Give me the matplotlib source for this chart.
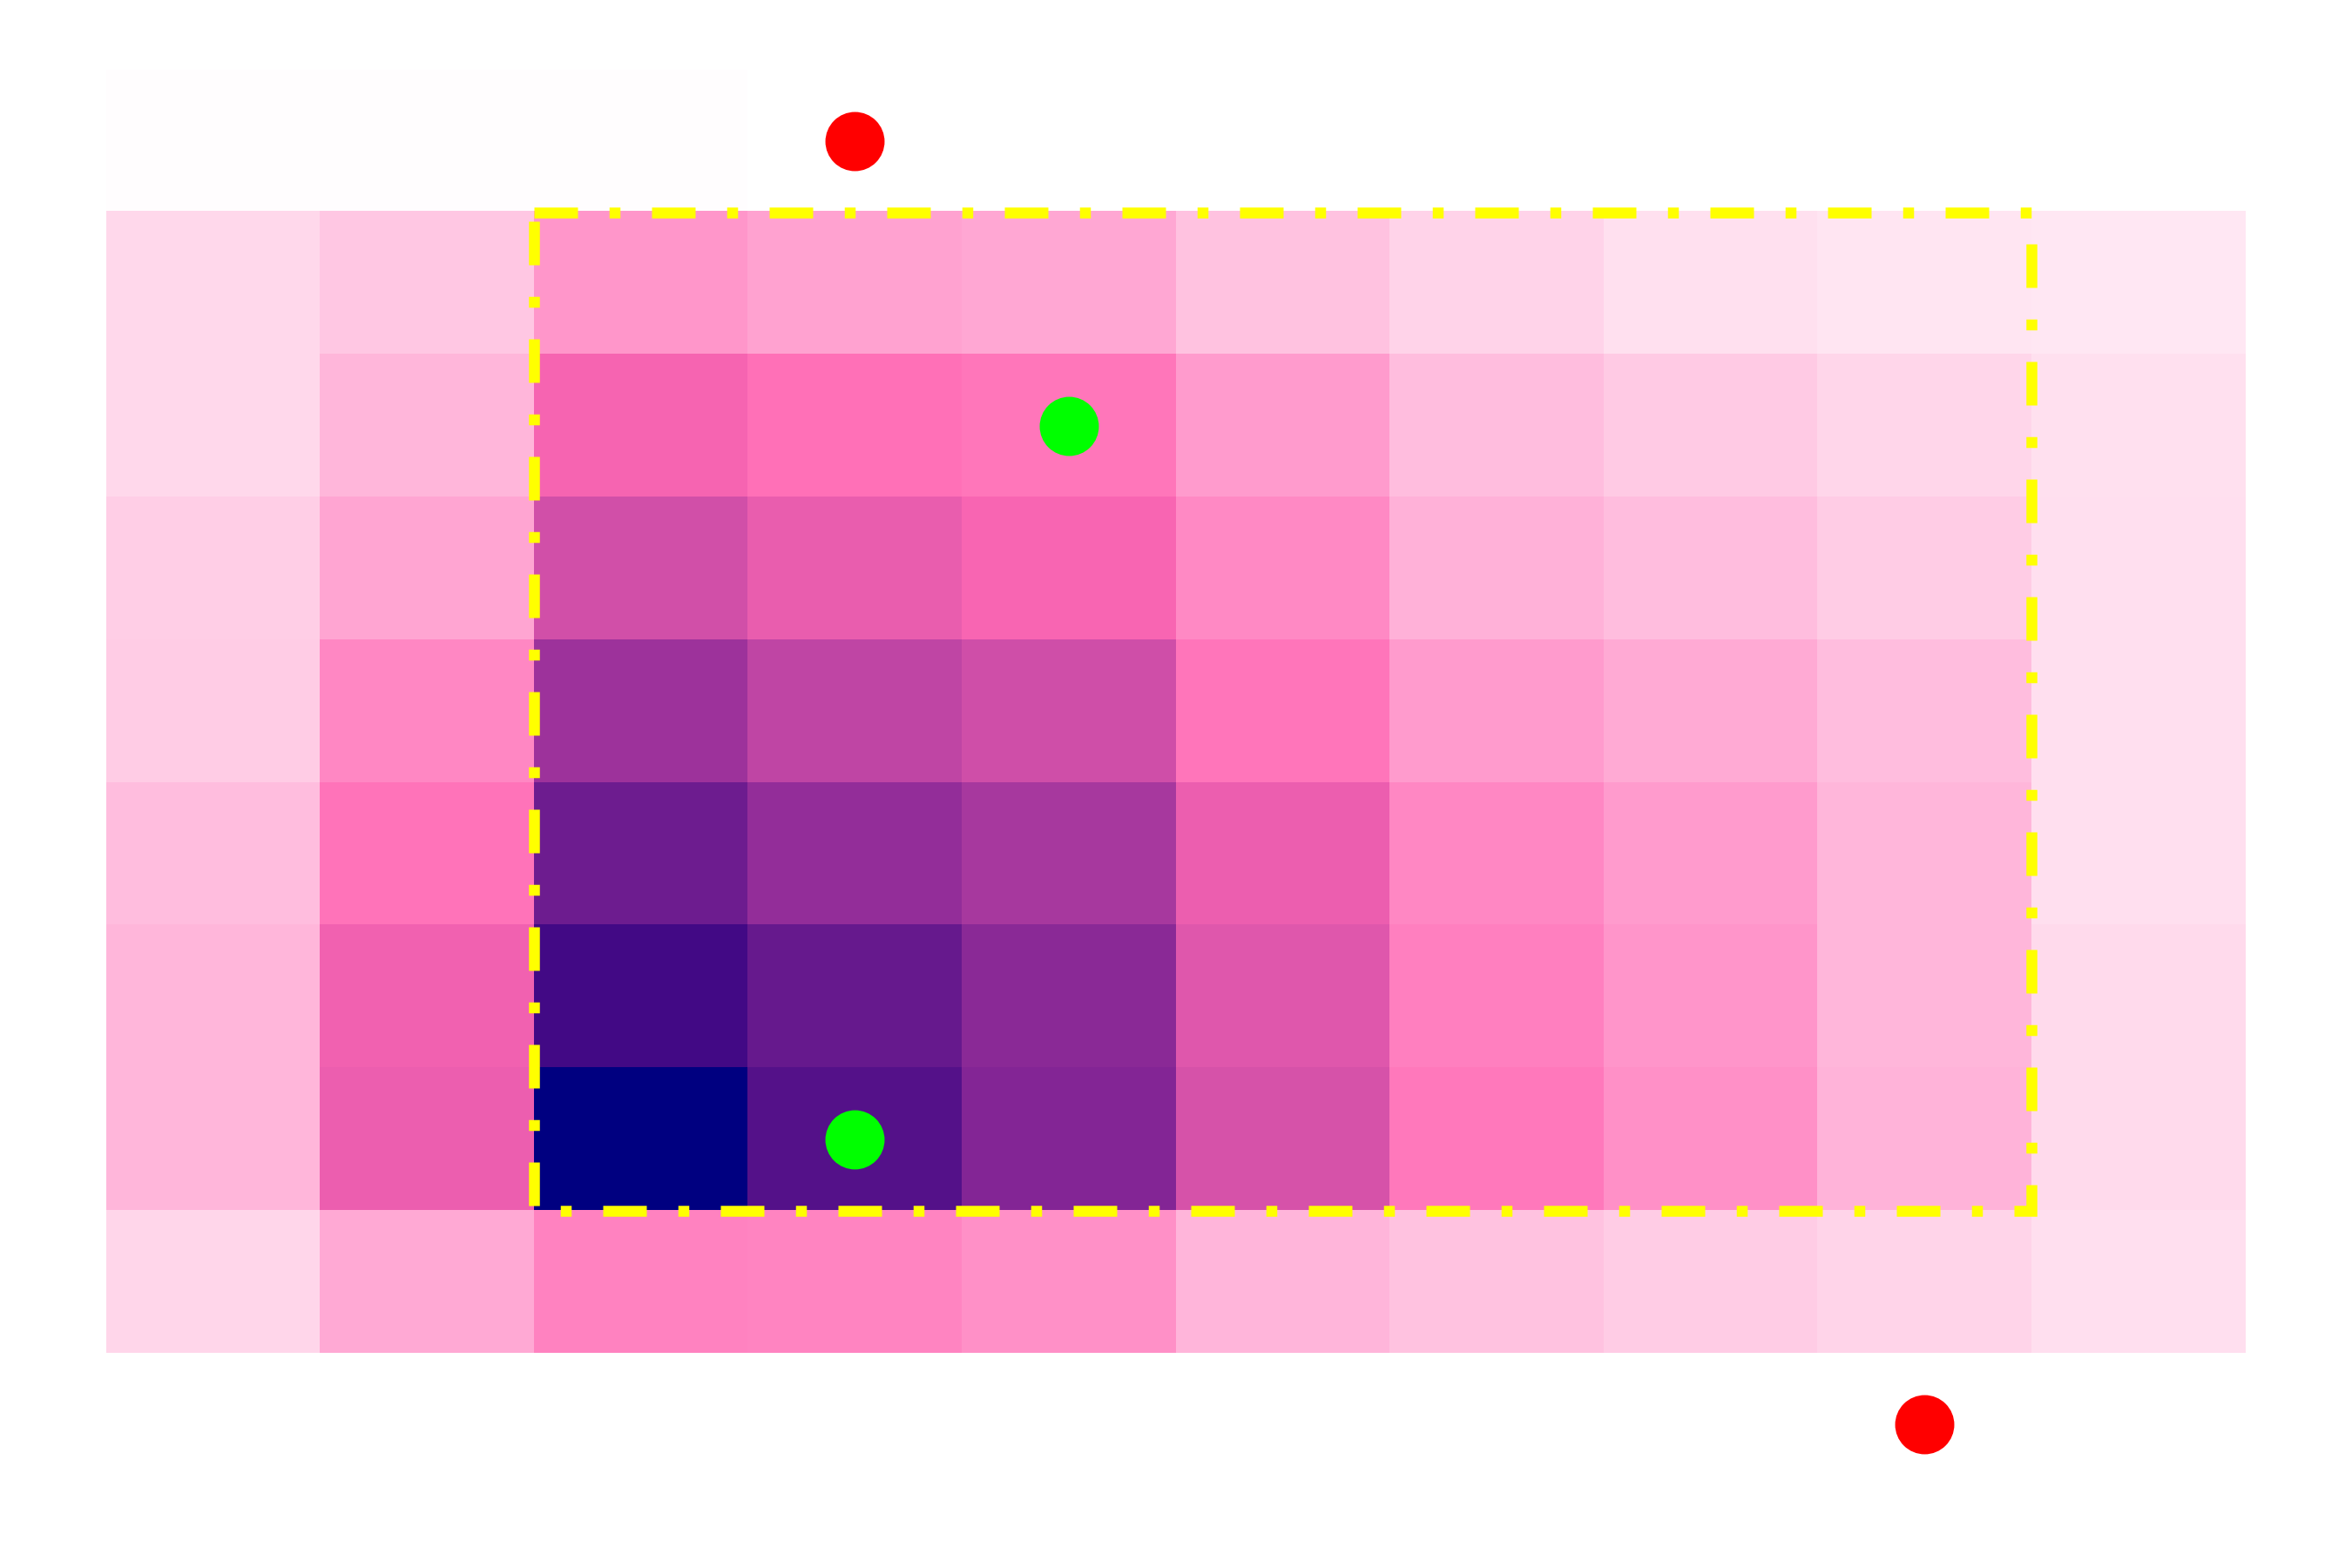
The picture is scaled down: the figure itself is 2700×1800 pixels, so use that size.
import numpy as np
import matplotlib
matplotlib.use("Agg")
import matplotlib.pyplot as plt
from matplotlib.colors import LinearSegmentedColormap
from matplotlib.patches import Rectangle

# Grid values (rows top -> bottom, columns left -> right)
row0 = [0.006, 0.006, 0.006, 0.0, 0.0, 0.0, 0.0, 0.0, 0.0, 0.0]
row1 = [0.092, 0.131, 0.243, 0.216, 0.207, 0.141, 0.103, 0.071, 0.060, 0.055]
row2 = [0.092, 0.170, 0.368, 0.335, 0.318, 0.231, 0.155, 0.124, 0.094, 0.071]
row3 = [0.114, 0.210, 0.455, 0.400, 0.367, 0.275, 0.182, 0.155, 0.120, 0.075]
row4 = [0.120, 0.278, 0.575, 0.497, 0.460, 0.321, 0.231, 0.196, 0.156, 0.075]
row5 = [0.154, 0.325, 0.701, 0.600, 0.553, 0.392, 0.278, 0.231, 0.168, 0.077]
row6 = [0.170, 0.379, 0.820, 0.721, 0.622, 0.423, 0.300, 0.249, 0.170, 0.087]
row7 = [0.170, 0.392, 1.000, 0.769, 0.642, 0.443, 0.314, 0.261, 0.178, 0.089]
row8 = [0.095, 0.200, 0.292, 0.287, 0.259, 0.175, 0.144, 0.119, 0.099, 0.075]

# Highlight region (column/row index ranges, inclusive)
box_cols = [2, 8]
box_rows = [1, 7]

# Marker points (column, row)
red_cols = [3, 8]
red_rows = [0, 9]
green_cols = [4, 3]
green_rows = [2, 7]

grid = np.array([row0, row1, row2, row3, row4, row5, row6, row7, row8])
n_rows_total = 10  # the axes leaves room for one empty row below the grid

cmap = LinearSegmentedColormap.from_list(
    "pinkpurple",
    [(0.0, "#ffffff"), (0.35, "#ff69b4"), (0.60, "#932d99"),
     (0.82, "#420985"), (1.0, "#000080")],
)

fig = plt.figure(figsize=(9, 6), dpi=300)
ax = fig.add_axes([0.0452, 0.0461, 0.9093, 0.9094])
ax.imshow(grid, cmap=cmap, vmin=0, vmax=1, aspect="auto",
          interpolation="nearest")
ax.set_xlim(-0.5, grid.shape[1] - 0.5)
ax.set_ylim(n_rows_total - 0.5, -0.5)

ax.add_patch(Rectangle((box_cols[0] - 0.5, box_rows[0] - 0.5),
                       box_cols[1] - box_cols[0] + 1,
                       box_rows[1] - box_rows[0] + 1,
                       fill=False, edgecolor="#ffff00", linewidth=3,
                       linestyle=(0, (4, 2.9, 1, 2.9)), zorder=3))

ax.plot(red_cols, red_rows, "o", color="#ff0000", markersize=16.3,
        markeredgewidth=0, linestyle="none", zorder=4, clip_on=False)
ax.plot(green_cols, green_rows, "o", color="#00ff00", markersize=16.3,
        markeredgewidth=0, linestyle="none", zorder=4, clip_on=False)

ax.axis("off")
fig.savefig("out.png", dpi=300)
